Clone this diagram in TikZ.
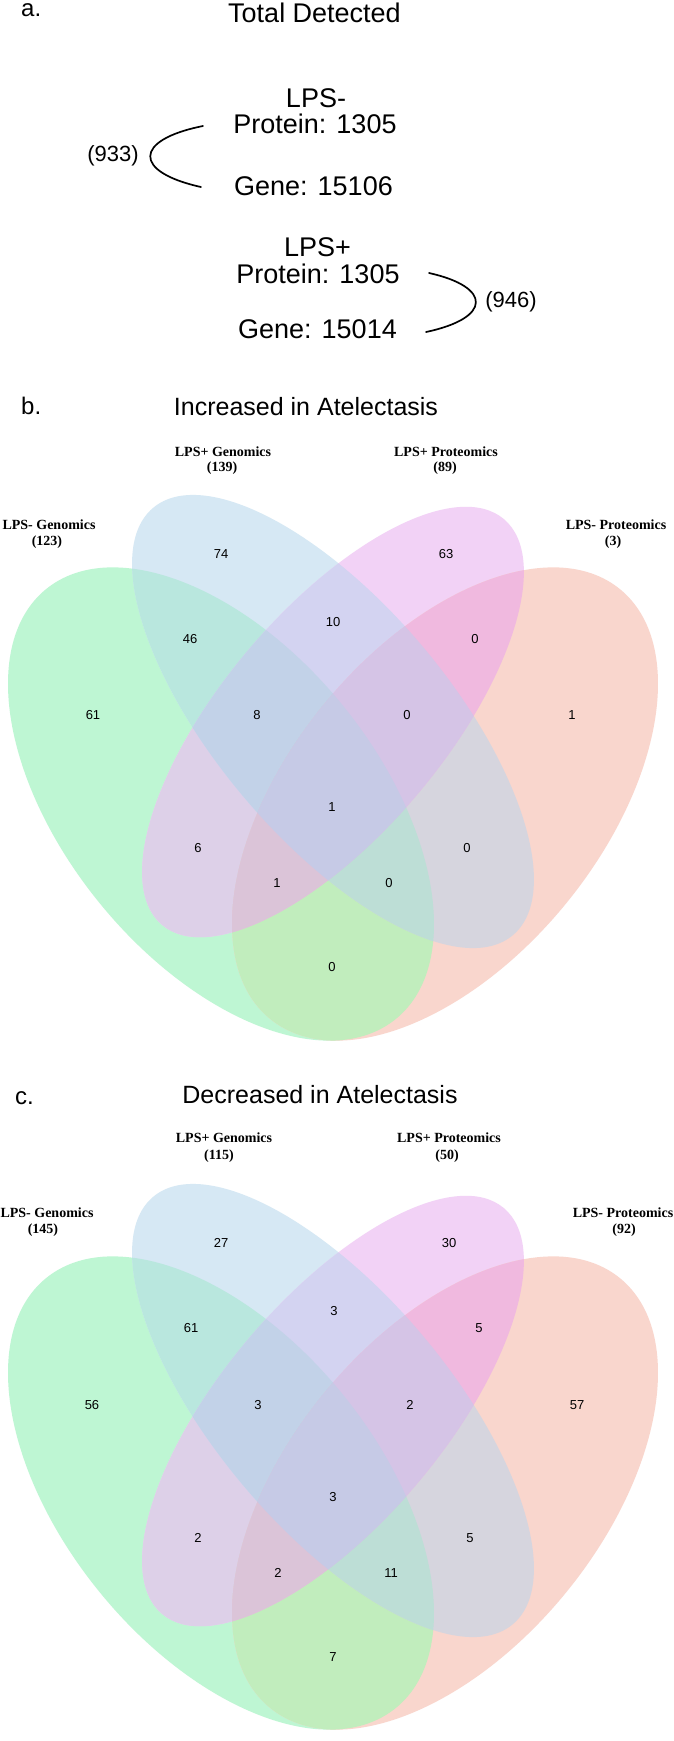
\documentclass[tikz,border=0pt]{standalone}
\usepackage{fontspec}
\setmainfont{Liberation Sans}
\newfontfamily\labserif{Liberation Serif}
\definecolor{cG}{RGB}{190,246,211}
\definecolor{cB}{RGB}{214,232,244}
\definecolor{cP}{RGB}{242,210,246}
\definecolor{cS}{RGB}{249,214,205}
\definecolor{cGB}{RGB}{185,231,222}
\definecolor{cBP}{RGB}{211,211,241}
\definecolor{cPS}{RGB}{240,185,223}
\definecolor{cGP}{RGB}{221,208,232}
\definecolor{cBS}{RGB}{214,213,222}
\definecolor{cGS}{RGB}{193,237,189}
\definecolor{cGBP}{RGB}{194,210,232}
\definecolor{cBPS}{RGB}{213,196,230}
\definecolor{cGPS}{RGB}{219,196,216}
\definecolor{cGBS}{RGB}{189,222,214}
\definecolor{cGBPS}{RGB}{198,202,230}
\newcommand\ellclip[1]{\clip[e#1] (0,0) circle[radius=100];}
\newcommand\ellfill[2]{\fill[#2,e#1] (0,0) circle[radius=100];}
\newcommand\drawvennregions{%
  \ellfill{G}{cG}\ellfill{B}{cB}\ellfill{P}{cP}\ellfill{S}{cS}%
  \begin{scope}\ellclip{G}\ellfill{B}{cGB}\end{scope}%
  \begin{scope}\ellclip{G}\ellfill{P}{cGP}\end{scope}%
  \begin{scope}\ellclip{G}\ellfill{S}{cGS}\end{scope}%
  \begin{scope}\ellclip{B}\ellfill{P}{cBP}\end{scope}%
  \begin{scope}\ellclip{B}\ellfill{S}{cBS}\end{scope}%
  \begin{scope}\ellclip{P}\ellfill{S}{cPS}\end{scope}%
  \begin{scope}\ellclip{G}\ellclip{B}\ellfill{P}{cGBP}\end{scope}%
  \begin{scope}\ellclip{G}\ellclip{B}\ellfill{S}{cGBS}\end{scope}%
  \begin{scope}\ellclip{G}\ellclip{P}\ellfill{S}{cGPS}\end{scope}%
  \begin{scope}\ellclip{B}\ellclip{P}\ellfill{S}{cBPS}\end{scope}%
  \begin{scope}\ellclip{G}\ellclip{B}\ellclip{P}\ellfill{S}{cGBPS}\end{scope}%
}
\begin{document}
\begin{tikzpicture}[x=1pt,y=1pt,
  eG/.style={shift={(221,-804)},rotate=-50.86,xscale=2.771,yscale=1.567},
  eB/.style={shift={(333,-721.5)},rotate=-49.9,xscale=2.793,yscale=1.169},
  eP/.style={shift={(333,-722)},rotate=49.9,xscale=2.653,yscale=1.111},
  eS/.style={shift={(445,-804)},rotate=50.86,xscale=2.771,yscale=1.567},
  num/.style={font=\fontsize{13}{13}\selectfont, inner sep=0pt},
  lab/.style={font=\labserif\bfseries\fontsize{14}{14}\selectfont, inner sep=0pt},
  big/.style={font=\fontsize{27}{27}\selectfont, inner sep=0pt, anchor=base},
  ttl/.style={font=\fontsize{25}{25}\selectfont, inner sep=0pt, anchor=base},
  pan/.style={font=\fontsize{24}{24}\selectfont, inner sep=0pt, anchor=base west},
  ovl/.style={font=\fontsize{22}{22}\selectfont, inner sep=0pt},
  brk/.style={line width=1.7pt, line cap=round}
]
\fill[white] (0,0) rectangle (674,-1741);
\useasboundingbox (0,0) rectangle (674,-1741);

% ---------- panel a ----------
\node[pan] (alab) at (21,-16.7) {a.};
\node[big] (atitle) at (314.5,-22.7) {Total Detected};
\node[big] (lpsm) at (316,-107) {LPS-};
\node[big] (prot1) at (315,-133) {Protein: 1305};
\node[big] (gene1) at (313.5,-195) {Gene: 15106};
\node[ovl] (ov1) at (113,-156) {(933)};
\node[big] (lpsp) at (317.5,-256) {LPS+};
\node[big] (prot2) at (318,-283) {Protein: 1305};
\node[big] (gene2) at (317.5,-338) {Gene: 15014};
\node[ovl] (ov2) at (511,-302) {(946)};
\coordinate (br1s) at (203,-126);
\coordinate (br1e) at (201,-187);
\coordinate (br2s) at (429,-273);
\coordinate (br2e) at (426,-332);
\draw[brk] (br1s) .. controls (133,-140) and (133,-172) .. (br1e);
\draw[brk] (br2s) .. controls (492,-287) and (492,-318) .. (br2e);

% ---------- panel b ----------
\node[pan] (blab) at (21,-414) {b.};
\node[ttl] (btitle) at (306,-415) {Increased in Atelectasis};
\begin{scope}
  \clip (0,-440) rectangle (674,-1043);
  \drawvennregions
\end{scope}
\node[lab] (bL1) at (223,-452) {LPS+ Genomics};
\node[lab] (bL1n) at (222,-468) {(139)};
\node[lab] (bL2) at (446,-452) {LPS+ Proteomics};
\node[lab] (bL2n) at (445,-468) {(89)};
\node[lab] (bL3) at (49,-525) {LPS- Genomics};
\node[lab] (bL3n) at (47,-542) {(123)};
\node[lab] (bL4) at (616,-525) {LPS- Proteomics};
\node[lab] (bL4n) at (613,-542) {(3)};
\node[num] (bB) at (221,-554) {74};
\node[num] (bP) at (446,-554) {63};
\node[num] (bBP) at (333,-622) {10};
\node[num] (bGB) at (190,-639) {46};
\node[num] (bPS) at (475,-639) {0};
\node[num] (bG) at (93,-715) {61};
\node[num] (bGBP) at (257,-715) {8};
\node[num] (bBPS) at (407,-715) {0};
\node[num] (bS) at (572,-715) {1};
\node[num] (bAll) at (332,-807) {1};
\node[num] (bGP) at (198,-848) {6};
\node[num] (bBS) at (467,-848) {0};
\node[num] (bGPS) at (277,-883) {1};
\node[num] (bGBS) at (389,-883) {0};
\node[num] (bGS) at (332,-967) {0};

% ---------- panel c ----------
\node[pan] (clab) at (15,-1104) {c.};
\node[ttl] (ctitle) at (320,-1103) {Decreased in Atelectasis};
\begin{scope}[yshift=-689pt]
  \drawvennregions
\end{scope}
\node[lab] (cL1) at (224,-1138) {LPS+ Genomics};
\node[lab] (cL1n) at (219,-1156) {(115)};
\node[lab] (cL2) at (449,-1138) {LPS+ Proteomics};
\node[lab] (cL2n) at (447,-1156) {(50)};
\node[lab] (cL3) at (47,-1213) {LPS- Genomics};
\node[lab] (cL3n) at (43,-1230) {(145)};
\node[lab] (cL4) at (623,-1213) {LPS- Proteomics};
\node[lab] (cL4n) at (624,-1230) {(92)};
\node[num] (cB) at (221,-1243) {27};
\node[num] (cP) at (449,-1243) {30};
\node[num] (cBP) at (334,-1311) {3};
\node[num] (cGB) at (191,-1328) {61};
\node[num] (cPS) at (479,-1328) {5};
\node[num] (cG) at (92,-1405) {56};
\node[num] (cGBP) at (258,-1405) {3};
\node[num] (cBPS) at (410,-1405) {2};
\node[num] (cS) at (577,-1405) {57};
\node[num] (cAll) at (333,-1497) {3};
\node[num] (cGP) at (198,-1538) {2};
\node[num] (cBS) at (470,-1538) {5};
\node[num] (cGPS) at (278,-1573) {2};
\node[num] (cGBS) at (391,-1573) {11};
\node[num] (cGS) at (333,-1657) {7};
\end{tikzpicture}
\end{document}
